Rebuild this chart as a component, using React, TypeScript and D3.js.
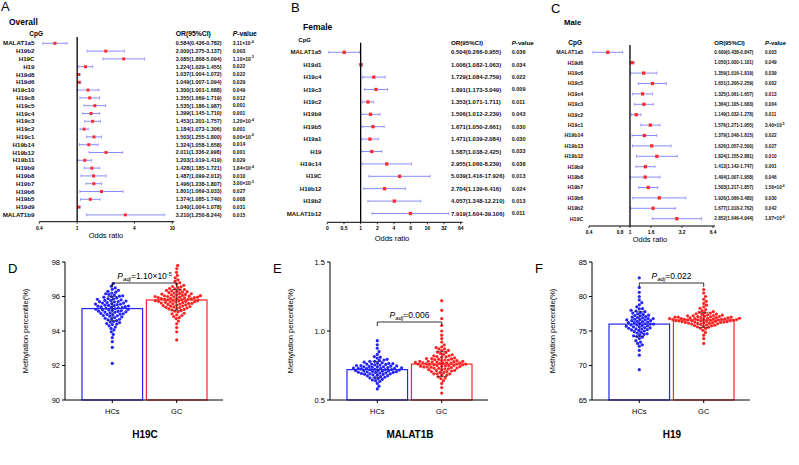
import React from "react";
import * as d3 from "d3";

const FONT = "'Liberation Sans', Arial, Helvetica, sans-serif";

// ---------- Panel A: Overall ----------
const aCpG = ["MALAT1a5","H19b2","H19C","H19","H19d8","H19d6","H19c10","H19c8","H19c5","H19c4","H19c3","H19c2","H19c1","H19b14","H19b12","H19b11","H19b9","H19b8","H19b7","H19b6","H19b5","H19d9","MALAT1b9"];
const aOR = [0.584,2.000,3.085,1.224,1.037,1.049,1.300,1.355,1.535,1.399,1.453,1.184,1.503,1.324,2.011,1.203,1.428,1.487,1.496,1.801,1.374,1.040,3.210];
const aLo = [0.436,1.275,1.868,1.029,1.004,1.007,1.001,1.069,1.186,1.145,1.201,1.073,1.255,1.058,1.336,1.019,1.185,1.099,1.238,1.069,1.085,1.004,1.250];
const aHi = [0.782,3.137,5.094,1.455,1.072,1.094,1.688,1.719,1.987,1.710,1.757,1.306,1.800,1.658,2.998,1.419,1.721,2.012,1.807,3.033,1.740,1.078,8.244];
const aP = ["3.11×10^-4","0.003","1.10×10^-5","0.022","0.022","0.029","0.049","0.012","0.001","0.001","1.20×10^-4","0.001","9.00×10^-6","0.014","0.001","0.029","1.84×10^-4","0.010","3.00×10^-5","0.027","0.008","0.031","0.015"];
const aTicks = [0.4, 1, 4, 10];
const aTickLabels = ["0.4", "1", "4", "10"];

// ---------- Panel B: Female ----------
const bCpG = ["MALAT1a5","H19d1","H19c4","H19c3","H19c2","H19b9","H19b5","H19a1","H19","H19c14","H19C","H19b12","H19b2","MALAT1b12"];
const bOR = [0.504,1.006,1.729,1.891,1.353,1.506,1.671,1.471,1.587,2.955,5.039,2.704,4.057,7.919];
const bLo = [0.266,1.082,1.084,1.173,1.071,1.012,1.050,1.039,1.038,1.060,1.416,1.139,1.348,1.604];
const bHi = [0.955,1.063,2.759,3.049,1.711,2.239,2.661,2.084,2.425,8.239,17.926,6.416,12.210,39.106];
const bP = ["0.036","0.034","0.022","0.009","0.011","0.043","0.030","0.030","0.033","0.038","0.013","0.024","0.013","0.011"];
const bTicks = [0.25, 0.5, 1, 2, 4, 8, 16, 32, 64];
const bTickLabels = ["0", "0.5", "1", "2", "4", "8", "16", "32", "64"];

// ---------- Panel C: Male ----------
const cCpG = ["MALAT1a5","H19d6","H19c6","H19c5","H19c4","H19c3","H19c2","H19c1","H19b14","H19b13","H19b12","H19b9","H19b8","H19b7","H19b6","H19b2","H19C"];
const cOR = [0.609,1.050,1.359,1.651,1.325,1.364,1.149,1.576,1.379,1.626,1.824,1.413,1.404,1.503,1.926,1.677,2.852];
const cLo = [0.438,1.000,1.016,1.206,1.061,1.105,1.032,1.271,1.048,1.057,1.155,1.142,1.007,1.217,1.066,1.018,1.646];
const cHi = [0.847,1.101,1.819,2.259,1.657,1.683,1.278,1.955,1.815,2.500,2.881,1.747,1.958,1.857,3.480,2.762,4.944];
const cP = ["0.003","0.049","0.039","0.002","0.013","0.004","0.011","3.40×10^-5","0.022","0.027","0.010","0.001","0.046","1.56×10^-4","0.030","0.042","1.87×10^-4"];
const cTicks = [0.4, 0.8, 1, 1.6, 3.2, 6.4];
const cTickLabels = ["0.4", "0.8", "1", "1.6", "3.2", "6.4"];

// ---------- Panel D: H19C ----------
const dHC = [92.12,93.05,93.38,93.62,93.80,93.95,94.06,94.15,94.23,94.30,94.37,94.43,94.49,94.55,94.60,94.65,94.70,94.74,94.78,94.82,94.86,94.90,94.94,94.98,95.02,95.05,95.08,95.11,95.14,95.17,95.20,95.23,95.26,95.29,95.32,95.35,95.38,95.41,95.44,95.47,95.50,95.53,95.56,95.59,95.62,95.65,95.68,95.71,95.74,95.77,95.80,95.84,95.88,95.92,95.96,96.00,96.04,96.08,96.12,96.16,96.20,96.25,96.30,96.36,96.42,96.50,96.60,96.75,94.52,94.88,95.00,95.15,95.25,95.40,95.55,95.70,95.86,94.68,95.10,95.34,95.48,95.62,96.02,94.40,94.96,95.22,95.45,95.78];
const dGC = [93.48,93.95,94.20,94.42,94.58,94.72,94.84,94.94,95.03,95.11,95.18,95.25,95.31,95.37,95.42,95.47,95.52,95.56,95.60,95.64,95.68,95.72,95.76,95.80,95.84,95.88,95.92,95.96,96.00,96.04,96.08,96.12,96.16,96.20,96.25,96.30,96.35,96.40,96.46,96.52,96.58,96.65,96.72,96.80,96.88,96.97,97.08,97.22,97.40,97.62,97.80,95.45,95.58,95.70,95.82,95.94,96.06,95.34,95.66,95.78,95.90,96.02,96.14,95.50,95.74,95.86,95.98,96.22,95.28,95.62,96.10,95.40,95.96,96.32,95.15,95.54,95.76,96.18,96.44,95.00,95.68,95.88,96.28,94.90,95.44,95.84,96.05,96.56,95.22,95.94,94.78,95.60,96.38,95.72,96.00,95.36];
const dMeans = [95.3, 95.8];
const dSds = [0.7, 0.6];
const dTicks = [90, 92, 94, 96, 98];

// ---------- Panel E: MALAT1B ----------
const eHC = [0.58,0.60,0.62,0.635,0.645,0.655,0.663,0.67,0.676,0.682,0.687,0.692,0.697,0.701,0.705,0.709,0.713,0.717,0.721,0.725,0.729,0.733,0.737,0.741,0.745,0.749,0.753,0.758,0.763,0.768,0.774,0.78,0.787,0.795,0.804,0.815,0.83,0.85,0.875,0.90,0.93,0.66,0.68,0.69,0.70,0.71,0.72,0.73,0.74,0.75,0.76,0.665,0.685,0.695,0.707,0.715,0.723,0.731,0.743,0.755,0.77,0.65,0.675,0.703,0.711,0.727,0.735,0.747,0.765,0.79,0.64,0.69,0.72,0.74,0.78,0.70,0.73,0.76,0.81];
const eGC = [0.55,0.59,0.62,0.64,0.655,0.668,0.68,0.69,0.698,0.706,0.713,0.72,0.726,0.732,0.738,0.744,0.75,0.755,0.76,0.765,0.77,0.775,0.78,0.786,0.792,0.798,0.805,0.812,0.82,0.828,0.837,0.847,0.858,0.87,0.885,0.90,0.92,0.945,0.97,1.0,1.04,1.09,1.15,1.22,0.70,0.71,0.72,0.73,0.74,0.75,0.76,0.77,0.78,0.79,0.80,0.81,0.68,0.735,0.745,0.755,0.765,0.775,0.785,0.795,0.83,0.69,0.715,0.725,0.748,0.758,0.768,0.778,0.80,0.845,0.66,0.705,0.742,0.762,0.772,0.815,0.86,0.73,0.75,0.77,0.79,0.87,0.69,0.74,0.78,0.82,0.76,0.88];
const eMeans = [0.72, 0.76];
const eSds = [0.06, 0.09];
const eTicks = [0.5, 1.0, 1.5];

// ---------- Panel F: H19 ----------
const fHC = [69.4,71.5,72.2,72.8,73.2,73.6,73.9,74.2,74.4,74.6,74.8,75.0,75.15,75.3,75.45,75.6,75.75,75.9,76.05,76.2,76.35,76.5,76.65,76.8,76.95,77.1,77.25,77.4,77.6,77.8,78.0,78.25,78.5,78.8,79.1,79.5,80.0,80.6,81.3,82.7,74.9,75.2,75.5,75.8,76.1,76.4,76.7,77.0,77.3,74.5,75.4,75.7,76.0,76.3,76.6,76.9,77.5,74.1,75.1,75.9,76.2,76.8,77.7,73.4,74.7,75.6,76.5,77.2,78.2,75.3,76.0,76.6,74.3,77.9,73.0];
const fGC = [73.2,73.9,74.4,74.8,75.1,75.35,75.55,75.7,75.85,75.95,76.05,76.15,76.25,76.35,76.45,76.5,76.55,76.6,76.65,76.7,76.75,76.8,76.85,76.9,77.0,77.1,77.2,77.3,77.4,77.5,77.65,77.8,77.95,78.1,78.3,78.5,78.75,79.0,79.3,79.6,80.0,80.5,81.0,76.1,76.2,76.3,76.4,76.5,76.6,76.7,76.8,76.9,77.0,77.1,75.9,76.0,76.3,76.55,76.75,76.95,77.15,77.35,75.75,76.25,76.45,76.65,76.85,77.05,77.25,77.6,75.6,76.35,76.6,76.8,77.45,75.4,76.1,76.5,77.0,77.7,76.4,76.7,75.8,76.95,76.2,77.2];
const fMeans = [76.0, 76.6];
const fSds = [1.8, 1.1];
const fTicks = [65, 70, 75, 80, 85];

const groups = ["HCs", "GC"];

const BLUE_LINE = "#8a8aff";
const RED_PT = "#ff2a2a";

function PText({ s, x, y, size, anchor = "start" }: any) {
  const parts = s.split("^");
  return (
    <text x={x} y={y} fontSize={size} fontFamily={FONT} fontWeight="bold" textAnchor={anchor} fill="#111">
      {parts[0]}
      {parts.length > 1 && (
        <tspan dy={-size * 0.45} fontSize={size * 0.7}>{parts[1]}</tspan>
      )}
    </text>
  );
}

function Forest(props: any) {
  const {
    cpg, or, lo, hi, p, x, ticks, tickLabels, row0, rowStep, labelX, labelSize,
    refTop, axisY, orX, pX, valSize, pSize, headerY, headerSize, cpgX, cpgY, cpgSize,
    title, titleX, titleY, titleSize, letter, letterX, letterY, xlabX, xlabY, mk, tickSize,
  } = props;
  const [x0, x1] = x.range();
  return (
    <g>
      <text x={letterX} y={letterY} fontSize={13} fontFamily={FONT}>{letter}</text>
      <text x={titleX} y={titleY} fontSize={titleSize} fontFamily={FONT} fontWeight="bold">{title}</text>
      <text x={cpgX} y={cpgY} fontSize={cpgSize} fontFamily={FONT} fontWeight="bold" textAnchor="end">CpG</text>
      <text x={orX} y={headerY} fontSize={headerSize} fontFamily={FONT} fontWeight="bold">OR(95%CI)</text>
      <text x={pX} y={headerY} fontSize={headerSize} fontFamily={FONT} fontWeight="bold">
        <tspan fontStyle="italic">P</tspan>-value
      </text>
      {cpg.map((c: string, i: number) => {
        const y = row0 + i * rowStep;
        const xl = x(lo[i]);
        const xh = x(hi[i]);
        return (
          <g key={c + i}>
            <text x={labelX} y={y + labelSize * 0.35} fontSize={labelSize} fontFamily={FONT} fontWeight="bold" textAnchor="end" fill="#111">{c}</text>
            <line x1={xl} x2={xh} y1={y} y2={y} stroke={BLUE_LINE} strokeWidth={1} />
            <line x1={xl} x2={xl} y1={y - 1.5} y2={y + 1.5} stroke={BLUE_LINE} strokeWidth={0.8} />
            <line x1={xh} x2={xh} y1={y - 1.5} y2={y + 1.5} stroke={BLUE_LINE} strokeWidth={0.8} />
            <rect x={x(or[i]) - mk / 2} y={y - mk / 2} width={mk} height={mk} fill={RED_PT} />
            <text x={orX} y={y + valSize * 0.35} fontSize={valSize} fontFamily={FONT} fontWeight="bold" fill="#111">
              {`${or[i].toFixed(3)}(${lo[i].toFixed(3)}-${hi[i].toFixed(3)})`}
            </text>
            <PText s={p[i]} x={pX} y={y + pSize * 0.35} size={pSize} />
          </g>
        );
      })}
      <line x1={x(1)} x2={x(1)} y1={refTop} y2={axisY} stroke="#000" strokeWidth={1.3} />
      <line x1={x0} x2={x1 + 2} y1={axisY} y2={axisY} stroke="#000" strokeWidth={1} />
      {ticks.map((t: number, i: number) => (
        <g key={"t" + i}>
          <line x1={x(t)} x2={x(t)} y1={axisY} y2={axisY + 2} stroke="#000" strokeWidth={0.8} />
          <text x={x(t)} y={axisY + 3 + tickSize} fontSize={tickSize} fontFamily={FONT} fontWeight="bold" textAnchor="middle">{tickLabels[i]}</text>
        </g>
      ))}
      <text x={xlabX} y={xlabY} fontSize={7.5} fontFamily={FONT} textAnchor="middle">Odds ratio</text>
    </g>
  );
}

function swarm(vals: number[], y: any, sep: number) {
  const sorted = vals.map((v) => ({ v, py: y(v), px: 0 })).sort((a, b) => a.v - b.v);
  const placed: any[] = [];
  const d = sep;
  for (const pt of sorted) {
    const cands = [0];
    for (const q of placed) {
      const dy = pt.py - q.py;
      if (Math.abs(dy) < d) {
        const dx = Math.sqrt(d * d - dy * dy);
        cands.push(q.px + dx, q.px - dx);
      }
    }
    cands.sort((a, b) => Math.abs(a) - Math.abs(b));
    for (const c of cands) {
      let ok = true;
      for (const q of placed) {
        const dx = c - q.px;
        const dy = pt.py - q.py;
        if (dx * dx + dy * dy < d * d - 0.01) { ok = false; break; }
      }
      if (ok) { pt.px = c; break; }
    }
    placed.push(pt);
  }
  return placed;
}

function ScatterBar(props: any) {
  const { x0, domain, ticks, fmt, hc, gc, means, sds, title, letter, pBase, pExp, bracketY } = props;
  const yTop = 262, yBot = 400;
  const y = d3.scaleLinear().domain(domain).range([yBot, yTop]);
  const xb = d3.scaleBand().domain(groups).range([x0 + 17, x0 + 142]).paddingInner(0.06);
  const bw = xb.bandwidth();
  const cols = ["#2424ff", "#ff2424"];
  const datas = [hc, gc];
  const r = 1.6;
  return (
    <g>
      <text x={x0 - 57} y={yTop + 11} fontSize={13} fontFamily={FONT}>{letter}</text>
      {groups.map((g, gi) => {
        const cx = (xb(g) as number) + bw / 2;
        const pts = swarm(datas[gi], y, 3.25);
        return (
          <g key={g}>
            <rect x={xb(g)} y={y(means[gi])} width={bw} height={yBot - y(means[gi])} fill="none" stroke={cols[gi]} strokeWidth={1.2} />
            {pts.map((p: any, k: number) => (
              <circle key={k} cx={cx + p.px} cy={p.py} r={r} fill={cols[gi]} />
            ))}
            <line x1={cx} x2={cx} y1={y(means[gi] + sds[gi])} y2={y(means[gi] - sds[gi])} stroke="#222" strokeWidth={0.6} />
            <line x1={cx - 5} x2={cx + 5} y1={y(means[gi] + sds[gi])} y2={y(means[gi] + sds[gi])} stroke="#222" strokeWidth={0.6} />
            <line x1={cx - 5} x2={cx + 5} y1={y(means[gi] - sds[gi])} y2={y(means[gi] - sds[gi])} stroke="#222" strokeWidth={0.6} />
            <text x={cx} y={yBot + 14} fontSize={7.5} fontFamily={FONT} textAnchor="middle">{g}</text>
          </g>
        );
      })}
      <line x1={x0} x2={x0} y1={yTop} y2={yBot} stroke="#000" strokeWidth={1} />
      <line x1={x0} x2={x0 + 158} y1={yBot} y2={yBot} stroke="#000" strokeWidth={1} />
      {groups.map((g) => {
        const cx = (xb(g) as number) + bw / 2;
        return <line key={"xt" + g} x1={cx} x2={cx} y1={yBot} y2={yBot + 3} stroke="#000" strokeWidth={1} />;
      })}
      {ticks.map((t: number) => (
        <g key={"yt" + t}>
          <line x1={x0 - 3} x2={x0} y1={y(t)} y2={y(t)} stroke="#000" strokeWidth={1} />
          <text x={x0 - 5} y={y(t) + 2.7} fontSize={7.5} fontFamily={FONT} textAnchor="end">{fmt(t)}</text>
        </g>
      ))}
      <text transform={`translate(${x0 - 37},${(yTop + yBot) / 2}) rotate(-90)`} fontSize={7.5} fontFamily={FONT} textAnchor="middle">Methylation percentile(%)</text>
      <text x={x0 + 80} y={yBot + 38} fontSize={10} fontFamily={FONT} fontWeight="bold" textAnchor="middle">{title}</text>
      {(() => {
        const c1 = (xb("HCs") as number) + bw / 2;
        const c2 = (xb("GC") as number) + bw / 2;
        return (
          <g>
            <line x1={c1} x2={c2} y1={bracketY} y2={bracketY} stroke="#000" strokeWidth={0.8} />
            <line x1={c1} x2={c1} y1={bracketY} y2={bracketY + 4} stroke="#000" strokeWidth={0.8} />
            <line x1={c2} x2={c2} y1={bracketY} y2={bracketY + 4} stroke="#000" strokeWidth={0.8} />
            <text x={(c1 + c2) / 2} y={bracketY - 4} fontSize={8.5} fontFamily={FONT} textAnchor="middle">
              <tspan fontStyle="italic">P</tspan>
              <tspan fontStyle="italic" fontSize={6} dy={2}>adj</tspan>
              <tspan dy={-2}>{"=" + pBase}</tspan>
              {pExp && <tspan fontSize={5.5} dy={-3}>{pExp}</tspan>}
            </text>
          </g>
        );
      })()}
    </g>
  );
}

export default function App() {
  const xA = d3.scaleLog().domain([0.4, 10]).range([39.3, 172.3]);
  const xB = d3.scaleLog().base(2).domain([0.25, 64]).range([327.3, 460.7]);
  const xC = d3.scaleLog().base(2).domain([0.4, 6.4]).range([589, 713]);
  return (
    <svg width={799} height={465} style={{ position: "absolute", left: 0, top: 0, background: "#fff" }}>
      <rect width={799} height={465} fill="#fff" />
      <Forest cpg={aCpG} or={aOR} lo={aLo} hi={aHi} p={aP} x={xA} ticks={aTicks} tickLabels={aTickLabels}
        row0={43.3} rowStep={7.8} labelX={34.5} labelSize={6.2} refTop={37} axisY={221.7}
        orX={175.7} pX={232.7} valSize={5.4} pSize={5} headerY={35.5} headerSize={6.8}
        cpgX={43} cpgY={35.5} cpgSize={6.5} title="Overall" titleX={9} titleY={25} titleSize={8.5}
        letter="A" letterX={1} letterY={11} xlabX={106} xlabY={238} mk={3} tickSize={4.8} />
      <Forest cpg={bCpG} or={bOR} lo={bLo} hi={bHi} p={bP} x={xB} ticks={bTicks} tickLabels={bTickLabels}
        row0={52.3} rowStep={12.4} labelX={321.5} labelSize={6.1} refTop={42.7} axisY={222.3}
        orX={451} pX={511.7} valSize={5.9} pSize={5.5} headerY={45} headerSize={6.2}
        cpgX={311} cpgY={41.5} cpgSize={6} title="Female" titleX={303} titleY={29.5} titleSize={8.5}
        letter="B" letterX={291} letterY={11.5} xlabX={392} xlabY={241} mk={3.3} tickSize={5} />
      <Forest cpg={cCpG} or={cOR} lo={cLo} hi={cHi} p={cP} x={xC} ticks={cTicks} tickLabels={cTickLabels}
        row0={52.3} rowStep={10.4} labelX={583.3} labelSize={5.3} refTop={45} axisY={226}
        orX={714.3} pX={765} valSize={4.6} pSize={4.6} headerY={45} headerSize={5.9}
        cpgX={582} cpgY={45} cpgSize={6.5} title="Male" titleX={564} titleY={25} titleSize={7.8}
        letter="C" letterX={551} letterY={12.5} xlabX={650} xlabY={242} mk={3.3} tickSize={4.8} />
      <ScatterBar x0={65} domain={[90, 98]} ticks={dTicks} fmt={(t: number) => String(t)} hc={dHC} gc={dGC}
        means={dMeans} sds={dSds} title="H19C" letter="D" pBase="1.10×10" pExp="-5" bracketY={283} />
      <ScatterBar x0={330} domain={[0.5, 1.5]} ticks={eTicks} fmt={(t: number) => t.toFixed(1)} hc={eHC} gc={eGC}
        means={eMeans} sds={eSds} title="MALAT1B" letter="E" pBase="0.006" pExp="" bracketY={322} />
      <ScatterBar x0={592} domain={[65, 85]} ticks={fTicks} fmt={(t: number) => String(t)} hc={fHC} gc={fGC}
        means={fMeans} sds={fSds} title="H19" letter="F" pBase="0.022" pExp="" bracketY={283} />
    </svg>
  );
}
